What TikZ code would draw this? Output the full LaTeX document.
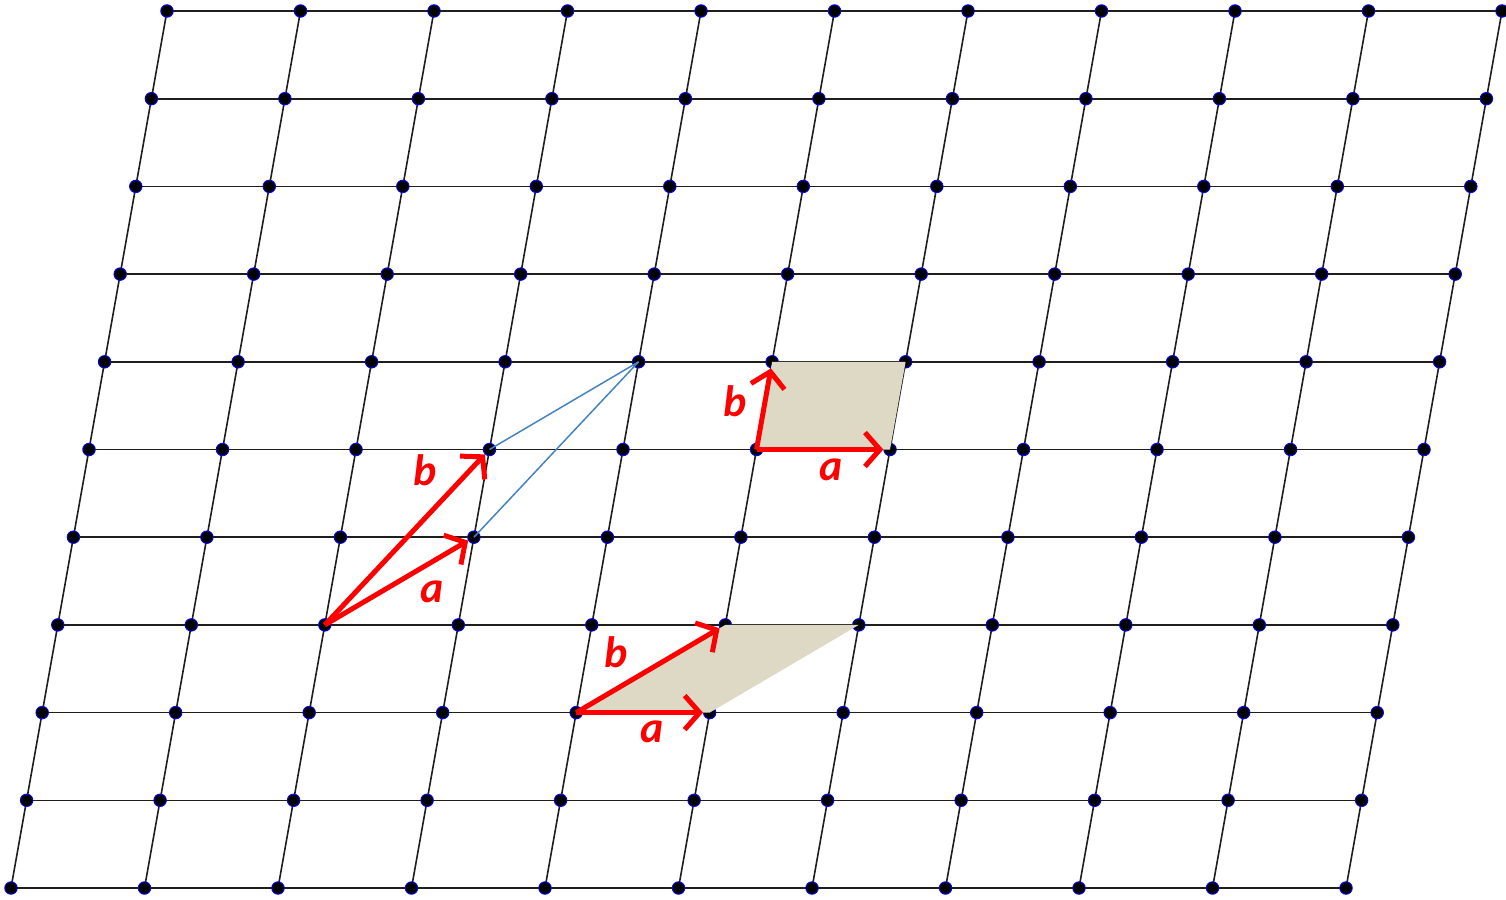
\documentclass[tikz,border=0pt]{standalone}
\usepackage{fontspec}
\setmainfont{Carlito}
\usetikzlibrary{arrows.meta}
\definecolor{shadefill}{RGB}{221,217,196}
\definecolor{vecred}{RGB}{255,0,0}
\definecolor{thinblue}{RGB}{70,130,190}
\definecolor{gridline}{RGB}{30,30,30}
\begin{document}
\begin{tikzpicture}[x=1pt,y=-1pt,
  dot/.style={circle,fill=black,draw=blue,line width=0.9pt,inner sep=0pt,minimum size=12.5pt},
  gridl/.style={draw=gridline,line width=1.6pt},
  vec/.style={draw=vecred,line width=5pt,-{Straight Barb[length=15pt,width=34pt]}},
  lab/.style={text=vecred,font=\bfseries\itshape\fontsize{44}{44}\selectfont,inner sep=0pt},
  thin/.style={draw=thinblue,line width=1.5pt},
  cell/.style={fill=shadefill}]
\useasboundingbox (0,0) rectangle (1506,899);
% lattice coordinates
\foreach \r in {0,...,10}{
  \foreach \i in {0,...,10}{
    \coordinate (c-\r-\i) at ({167+133.5*\i-15.6*\r},{11+87.7*\r});
  }
}
% horizontal lines
\foreach \r in {0,...,10}{
  \draw[gridl] (c-\r-0) -- (c-\r-10);
}
% slanted lines
\foreach \i in {0,...,10}{
  \draw[gridl] (c-0-\i) -- (c-10-\i);
}
% dots
\foreach \r in {0,...,10}{
  \foreach \i in {0,...,10}{
    \node[dot] (p-\r-\i) at (c-\r-\i) {};
  }
}
% shaded cells
\fill[cell] (c-5-5) -- (c-5-6) -- (c-4-6) -- (c-4-5) -- cycle;
\fill[cell] (c-8-4) -- (c-8-5) -- (c-7-6) -- (c-7-5) -- cycle;
% thin blue lines
\draw[thin] (p-5-3.center) -- (p-4-4.center);
\draw[thin] (p-6-3.center) -- (p-4-4.center);
% vectors group 1
\draw[vec] (p-7-2.center) -- (p-6-3);
\draw[vec] (p-7-2.center) -- (p-5-3);
\node[lab] (a1) at (432,592) {a};
\node[lab] (b1) at (425,470) {b};
% vectors group 2
\draw[vec] (p-5-5.center) -- (p-5-6);
\draw[vec] (p-5-5.center) -- (p-4-5);
\node[lab] (a2) at (831,470) {a};
\node[lab] (b2) at (735,401) {b};
% vectors group 3
\draw[vec] (p-8-4.center) -- (p-8-5);
\draw[vec] (p-8-4.center) -- (p-7-5);
\node[lab] (a3) at (652,732) {a};
\node[lab] (b3) at (616,652) {b};
\end{tikzpicture}
\end{document}
